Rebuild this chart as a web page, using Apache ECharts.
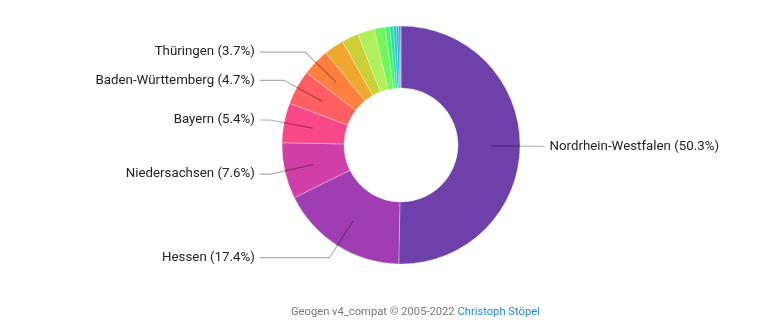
<!DOCTYPE html>
<html>
<head>
<meta charset="utf-8">
<script src="https://cdn.jsdelivr.net/npm/echarts@6/dist/echarts.min.js"></script>
<style>
  html, body { margin: 0; padding: 0; background: #fff; }
  #chart { width: 767px; height: 323px; }
</style>
</head>
<body>
<div id="chart"></div>
<script>
// Share of each German state (percent), largest first
const states = [
  'Nordrhein-Westfalen', 'Hessen', 'Niedersachsen', 'Bayern',
  'Baden-Württemberg', 'Thüringen', 'Sachsen', 'Rheinland-Pfalz',
  'Schleswig-Holstein', 'Berlin', 'Hamburg', 'Sachsen-Anhalt',
  'Brandenburg', 'Mecklenburg-Vorpommern', 'Saarland', 'Bremen'
];
const shares = [50.3, 17.4, 7.6, 5.4, 4.7, 3.7, 2.7, 2.3, 2.3, 1.5, 0.6, 0.5, 0.4, 0.3, 0.2, 0.1];
// Only the largest slices carry a label
const labelledCount = 6;

// Cyclic cubehelix "rainbow" colour scale
function rainbow(t) {
  const ts = Math.abs(t - 0.5);
  const h = 360 * t - 100, s = 1.5 - 1.5 * ts, l = 0.8 - 0.9 * ts;
  const A = -0.14861, B = 1.78277, C = -0.29227, D = -0.90649, E = 1.97294;
  const hr = (h + 120) * Math.PI / 180;
  const a = s * l * (1 - l);
  const ch = Math.cos(hr), sh = Math.sin(hr);
  const r = l + a * (A * ch + B * sh);
  const g = l + a * (C * ch + D * sh);
  const b = l + a * (E * ch);
  const to = v => Math.max(0, Math.min(255, Math.round(v * 255)));
  return 'rgb(' + to(r) + ',' + to(g) + ',' + to(b) + ')';
}

const CX = 401, CY = 145, R_IN = 57, R_OUT = 119, R_LINE = 90;

// Coloured donut ring
const ringData = states.map((name, i) => ({
  name: name,
  value: shares[i],
  itemStyle: { color: rainbow(i / states.length) }
}));

// Invisible companion pie whose leader lines start inside the ring
const labelData = states.map((name, i) => ({
  name: name,
  value: shares[i],
  label: { show: i < labelledCount },
  labelLine: { show: i < labelledCount }
}));

const chart = echarts.init(document.getElementById('chart'), null, { renderer: 'canvas' });
chart.setOption({
  animation: false,
  title: {
    text: '{g|Geogen v4_compat © 2005-2022 }{b|Christoph Stöpel}',
    left: 291,
    top: 307,
    padding: 0,
    textStyle: {
      fontWeight: 'normal',
      rich: {
        g: { fontFamily: 'Roboto', fontSize: 11.2, fontWeight: 'normal', color: '#777' },
        b: { fontFamily: 'Roboto', fontSize: 11.2, fontWeight: 'normal', color: '#1f86e8' }
      }
    }
  },
  series: [{
    type: 'pie',
    z: 2,
    center: [CX, CY],
    radius: [R_IN, R_OUT],
    startAngle: 90,
    clockwise: true,
    silent: true,
    label: { show: false },
    labelLine: { show: false },
    itemStyle: { borderColor: 'rgba(255,255,255,0.6)', borderWidth: 0.5 },
    data: ringData
  }, {
    type: 'pie',
    z: 5,
    center: [CX, CY],
    radius: [0, R_LINE],
    startAngle: 90,
    clockwise: true,
    silent: true,
    itemStyle: { color: 'rgba(0,0,0,0)', borderWidth: 0 },
    label: {
      formatter: p => p.name + ' (' + p.value.toFixed(1) + '%)',
      alignTo: 'labelLine',
      fontFamily: 'Roboto',
      fontSize: 13.3,
      color: '#222'
    },
    labelLine: {
      length: R_OUT - R_LINE + 14.5,
      length2: 10,
      lineStyle: { color: 'rgba(0,0,0,0.32)', width: 1.2 }
    },
    data: labelData
  }]
});
</script>
</body>
</html>
